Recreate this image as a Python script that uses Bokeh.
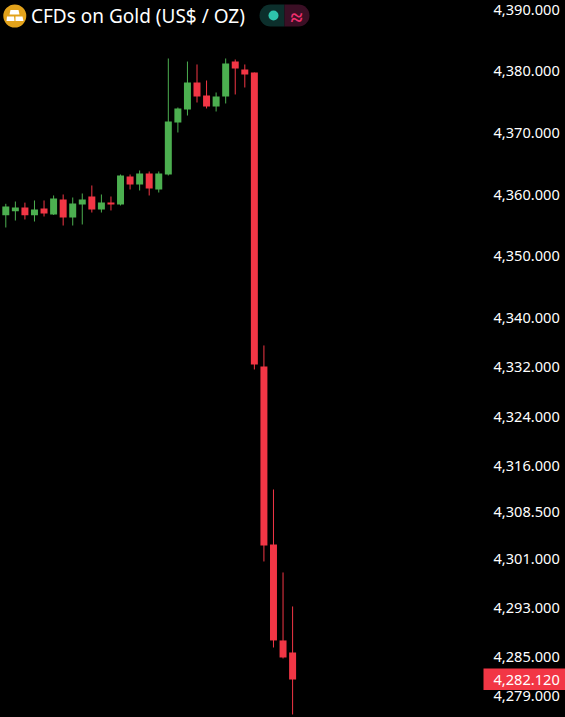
from bokeh.embed import file_html
from bokeh.resources import INLINE
from bokeh.plotting import figure
from bokeh.core.properties import value
from bokeh.models import Range1d, BoxAnnotation

open_ = [4356.66,4357.31,4357.91,4356.66,4357.75,4356.78,4359.21,4356.29,4358.40,4359.69,4357.59,4358.72,4358.40,4362.94,4361.64,4363.42,4360.83,
         4363.26,4371.69,4373.79,4378.17,4376.06,4374.28,4375.90,4381.57,4380.28,4379.79,4332.14,4303.29,4287.74,4285.79]
high = [4358.51,4358.88,4358.70,4359.05,4359.05,4359.86,4360.02,4359.53,4360.18,4361.48,4360.02,4359.69,4363.26,4363.26,4363.91,4363.75,4363.75,
        4382.06,4374.12,4381.57,4381.09,4378.49,4376.55,4382.06,4381.90,4381.09,4379.79,4335.55,4312.21,4298.76,4293.25]
low = [4354.67,4355.80,4355.97,4355.64,4356.45,4356.70,4354.99,4354.99,4355.16,4357.10,4357.10,4357.43,4358.24,4360.83,4360.67,4359.86,4360.34,
       4363.10,4370.07,4372.82,4374.93,4373.96,4373.47,4374.77,4376.23,4377.36,4331.66,4300.54,4286.60,4284.82,4275.74]
close = [4358.07,4357.91,4356.66,4357.59,4356.94,4359.37,4356.29,4358.56,4359.21,4357.59,4358.72,4358.40,4363.10,4361.64,4363.42,4360.99,4363.42,
         4371.85,4373.96,4378.17,4375.90,4374.28,4375.90,4381.25,4380.44,4379.47,4332.47,4303.13,4287.74,4284.98,4281.41]
is_up = [True,True,False,True,False,True,False,True,True,False,True,False,True,False,True,False,True,
         True,True,True,False,False,True,True,False,False,False,False,False,False,False]
tick_values = [4390,4380,4370,4360,4350,4340,4332,4324,4316,4308.5,4301,4293,4285,4279]
title_text = "CFDs on Gold (US$ / OZ)"
last_price = "4,282.120"

UP = "#4caf50"
DOWN = "#f23645"
W, H = 565, 717
PX_PER_BAR = 9.56
PX_PER_USD = 6.17
x0 = -5.3 / PX_PER_BAR
y_top = 4391.46
FONT = value("Noto Sans")

def px(x):
    return x0 + x / PX_PER_BAR

def py(y):
    return y_top - y / PX_PER_USD

p = figure(width=W, height=H, output_backend="svg", toolbar_location=None,
           x_range=Range1d(x0, px(W)), y_range=Range1d(py(H), y_top),
           min_border=0, background_fill_color=None, border_fill_color="#000000",
           outline_line_color=None, outline_line_alpha=0, outline_line_width=0,
           x_axis_location=None, y_axis_location=None)
p.styles = {"position": "fixed", "left": "0", "top": "0", "background": "#000000"}
p.grid.visible = False
p.add_layout(BoxAnnotation(fill_color="#000000", fill_alpha=1, line_color=None, level="underlay"))

xs = list(range(len(open_)))
colors = [UP if u else DOWN for u in is_up]
tops = [max(a, b) for a, b in zip(open_, close)]
bottoms = [min(a, b) for a, b in zip(open_, close)]
p.segment(xs, high, xs, low, line_color=colors, line_width=1)
p.vbar(x=xs, top=tops, bottom=bottoms, width=0.73, fill_color=colors, line_color=None)

# last price tag
p.quad(left=[px(483)], right=[px(W)], top=[py(668)], bottom=[py(689.5)], fill_color=DOWN, line_color=None)
p.text([px(493)], [py(679)], text=[last_price], text_color="#ffffff", text_font=FONT,
       text_font_size="14.6px", text_align="left", text_baseline="middle")

# price scale
p.text([px(493)] * len(tick_values), tick_values, text=[f"{t:,.3f}" for t in tick_values],
       y_offset=[0] * (len(tick_values) - 1) + [2],
       text_color="#ffffff", text_font=FONT, text_font_size="14.6px", text_align="left", text_baseline="middle")

# symbol icon
p.scatter([px(14.3)], [py(15.5)], size=23, marker="circle", fill_color="#e2a21b", line_color=None)
p.patches([[px(10), px(18), px(19), px(9)], [px(6.5), px(13.5), px(14), px(6)], [px(15), px(22), px(23), px(15)]],
          [[py(9.5), py(9.5), py(14), py(14)], [py(16), py(16), py(20.5), py(20.5)], [py(16), py(16), py(20.5), py(20.5)]],
          fill_color="#ffffff", line_color=None)
p.text([px(30.5)], [py(15.5)], text=[title_text], text_color="#ffffff", text_font=FONT,
       text_font_size="19px", text_align="left", text_baseline="middle")

# status pill
p.add_layout(BoxAnnotation(left=px(259), right=px(284), top=py(4), bottom=py(26), fill_color="#0c2f2c", fill_alpha=1,
                           line_color=None, border_radius=(11, 0, 0, 11), level="underlay"))
p.add_layout(BoxAnnotation(left=px(284), right=px(309), top=py(4), bottom=py(26), fill_color="#3b0f25", fill_alpha=1,
                           line_color=None, border_radius=(0, 11, 11, 0), level="underlay"))
p.scatter([px(273)], [py(15)], size=10, marker="circle", fill_color="#2ec4ac", line_color=None)
p.text([px(296)], [py(15)], text=["≈"], text_color="#f0306e", text_font=FONT,
       text_font_size="22px", text_font_style="bold", text_align="center", text_baseline="middle")

open("out.html", "w").write(file_html(p, INLINE))
